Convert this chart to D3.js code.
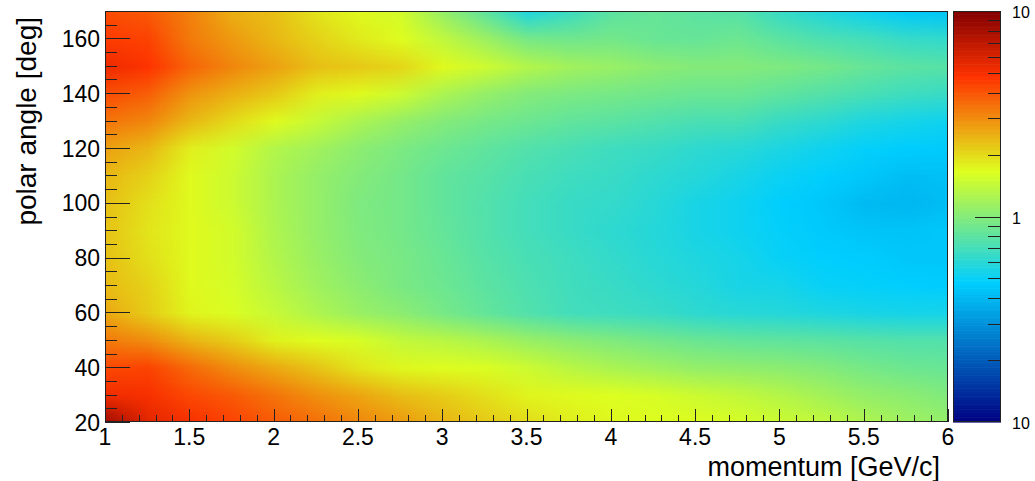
<!DOCTYPE html>
<html><head><meta charset="utf-8">
<script src="https://cdn.jsdelivr.net/npm/d3@7"></script>
<style>
body{margin:0;background:#fff}
svg{display:block}
text{font-family:"Liberation Sans",Arial,Helvetica,sans-serif;fill:#000}
</style>
</head><body>
<svg id="chart" width="1035" height="481"></svg>
<script>
// ---- data ----
const momentum = [1,1.25,1.5,1.75,2,2.25,2.5,2.75,3,3.25,3.5,3.75,4,4.25,4.5,4.75,5,5.25,5.5,5.75,6];
const angles = [20,30,40,50,60,70,80,90,100,110,120,130,140,150,160,170];
const row20  = [8.5,5.7,5.0,4.4,3.9,3.5,3.1,2.8,2.45,2.2,2.0,1.8,1.72,1.68,1.68,1.6,1.5,1.42,1.28,1.17,1.1];
const row30  = [5.2,5.0,4.3,3.9,3.4,2.95,2.65,2.32,2.15,1.95,1.75,1.7,1.65,1.6,1.5,1.42,1.32,1.2,1.1,1.05,0.98];
const row40  = [4.3,4.4,3.6,3.0,2.6,2.25,1.9,1.72,1.68,1.62,1.5,1.35,1.25,1.17,1.1,1.08,1.05,1.0,0.93,0.88,0.86];
const row50  = [3.3,3.0,2.45,2.15,1.78,1.68,1.6,1.42,1.35,1.25,1.13,1.05,0.98,0.92,0.87,0.84,0.82,0.8,0.78,0.76,0.76];
const row60  = [2.6,2.15,1.75,1.62,1.45,1.27,1.13,1.05,0.93,0.84,0.76,0.7,0.68,0.66,0.62,0.6,0.59,0.57,0.55,0.54,0.54];
const row70  = [2.35,2.1,1.7,1.58,1.35,1.17,1.05,0.95,0.88,0.8,0.74,0.69,0.66,0.62,0.59,0.55,0.54,0.5,0.49,0.48,0.47];
const row80  = [2.3,1.95,1.7,1.55,1.3,1.13,1.0,0.94,0.86,0.78,0.72,0.68,0.64,0.6,0.57,0.54,0.5,0.48,0.47,0.45,0.45];
const row90  = [2.25,1.9,1.7,1.55,1.27,1.1,0.98,0.92,0.84,0.76,0.7,0.66,0.62,0.59,0.55,0.52,0.49,0.46,0.44,0.44,0.45];
const row100 = [2.3,1.95,1.7,1.5,1.25,1.1,0.97,0.92,0.83,0.76,0.7,0.66,0.64,0.6,0.55,0.52,0.48,0.45,0.41,0.4,0.42];
const row110 = [2.4,2.1,1.7,1.5,1.25,1.1,1.0,0.92,0.83,0.78,0.72,0.68,0.66,0.62,0.59,0.55,0.51,0.48,0.45,0.42,0.43];
const row120 = [2.7,2.4,1.8,1.55,1.3,1.18,1.05,0.96,0.88,0.82,0.76,0.72,0.68,0.66,0.62,0.6,0.56,0.52,0.49,0.47,0.46];
const row130 = [3.4,3.1,2.4,2.0,1.7,1.45,1.25,1.11,1.0,0.93,0.88,0.83,0.8,0.76,0.73,0.72,0.66,0.62,0.57,0.54,0.52];
const row140 = [4.2,3.8,2.9,2.5,2.2,1.8,1.7,1.5,1.25,1.1,1.0,0.96,0.93,0.9,0.87,0.87,0.82,0.77,0.72,0.68,0.66];
const row150 = [5.3,4.8,3.7,3.1,2.7,2.3,2.2,2.05,1.7,1.5,1.3,1.18,1.12,1.05,1.0,1.0,0.97,0.92,0.85,0.8,0.78];
const row160 = [4.6,4.4,3.3,2.8,2.4,2.1,1.85,1.68,1.4,1.15,0.93,0.9,0.92,0.86,0.85,0.88,0.8,0.74,0.7,0.65,0.63];
const row170 = [4.2,3.9,3.2,2.5,2.3,1.9,1.7,1.55,1.1,0.81,0.57,0.67,0.8,0.85,0.8,0.78,0.65,0.58,0.52,0.46,0.44];
const grid = [row20,row30,row40,row50,row60,row70,row80,row90,row100,row110,row120,row130,row140,row150,row160,row170];

const xTickValues = [1,1.5,2,2.5,3,3.5,4,4.5,5,5.5,6];
const xTickLabels = ["1","1.5","2","2.5","3","3.5","4","4.5","5","5.5","6"];
const yTickValues = [20,40,60,80,100,120,140,160];
const yTickLabels = ["20","40","60","80","100","120","140","160"];
const zTickValues = [10,1,0.1];
const zTickLabels = ["10","1","10"];
const xTitle = "momentum [GeV/c]";
const yTitle = "polar angle [deg]";

// ---- layout / style ----
const L = 105, R = 948, T = 11, B = 422;
const CB_L = 953, CB_R = 1001;
const paletteStops = [0,0.34,0.61,0.84,1];
const paletteColors = ["rgb(0,0,130)","rgb(0,207,255)","rgb(222,255,31)","rgb(255,51,0)","rgb(130,0,0)"];
const lineColor = "#222";

const svg = d3.select("#chart");
const x = d3.scaleLinear().domain([1,6]).range([L,R]);
const y = d3.scaleLinear().domain([20,170]).range([B,T]);
const zNorm = d3.scaleLog().domain([0.1,10]).range([0,1]).clamp(true);
const pal = d3.scaleLinear().domain(paletteStops).range(paletteColors).interpolate(d3.interpolateRgb);
const color = v => pal(zNorm(v));

// ---- heat map: one pixel per cell, smoothly scaled by the renderer ----
const nx = momentum.length, ny = angles.length;
const cv = document.createElement("canvas");
cv.width = nx; cv.height = ny;
const ctx = cv.getContext("2d");
const img = ctx.createImageData(nx, ny);
for (let j = 0; j < ny; j++) {
  for (let i = 0; i < nx; i++) {
    const c = d3.rgb(color(grid[j][i]));
    const k = ((ny - 1 - j) * nx + i) * 4;
    img.data[k] = c.r; img.data[k+1] = c.g; img.data[k+2] = c.b; img.data[k+3] = 255;
  }
}
ctx.putImageData(img, 0, 0);
const dp = momentum[1] - momentum[0], da = angles[1] - angles[0];

svg.append("defs").append("clipPath").attr("id","plotclip")
  .append("rect").attr("x",L).attr("y",T).attr("width",R-L).attr("height",B-T);

const x0 = x(momentum[0] - dp/2), x1 = x(momentum[nx-1] + dp/2);
const y0 = y(angles[ny-1] + da/2), y1 = y(angles[0] - da/2);
svg.append("g").attr("clip-path","url(#plotclip)")
  .append("image")
  .attr("href", cv.toDataURL())
  .attr("x", x0).attr("y", y0)
  .attr("width", x1 - x0).attr("height", y1 - y0)
  .attr("preserveAspectRatio","none")
  .style("image-rendering","auto");

// ---- frame ----
svg.append("rect").attr("x",L+0.5).attr("y",T+0.5).attr("width",R-L-1).attr("height",B-T-1)
  .attr("fill","none").attr("stroke",lineColor).attr("stroke-width",1);

// ---- x axis ----
const xMinor = d3.range(10, 61).map(v => v/10).filter(v => !xTickValues.some(t => Math.abs(t - v) < 1e-9));
const gx = svg.append("g");
gx.selectAll("line.maj").data(xTickValues).join("line")
  .attr("x1", d => Math.round(x(d))+0.5).attr("x2", d => Math.round(x(d))+0.5)
  .attr("y1", B).attr("y2", B-13).attr("stroke", lineColor);
gx.selectAll("line.min").data(xMinor).join("line")
  .attr("x1", d => Math.round(x(d))+0.5).attr("x2", d => Math.round(x(d))+0.5)
  .attr("y1", B).attr("y2", B-7).attr("stroke", lineColor);
gx.selectAll("text").data(xTickValues).join("text")
  .attr("x", d => x(d)).attr("y", 445)
  .attr("text-anchor","middle").attr("font-size", 23)
  .text((d,i) => xTickLabels[i]);

// ---- y axis ----
const yMinor = d3.range(20, 171, 5).filter(v => !yTickValues.includes(v));
const gy = svg.append("g");
gy.selectAll("line.maj").data(yTickValues).join("line")
  .attr("x1", L).attr("x2", L+25)
  .attr("y1", d => Math.round(y(d))+0.5).attr("y2", d => Math.round(y(d))+0.5).attr("stroke", lineColor);
gy.selectAll("line.min").data(yMinor).join("line")
  .attr("x1", L).attr("x2", L+12)
  .attr("y1", d => Math.round(y(d))+0.5).attr("y2", d => Math.round(y(d))+0.5).attr("stroke", lineColor);
gy.selectAll("text").data(yTickValues).join("text")
  .attr("x", 100).attr("y", d => y(d) + 8.5)
  .attr("text-anchor","end").attr("font-size", 23)
  .text((d,i) => yTickLabels[i]);

// ---- titles ----
svg.append("text").attr("x", 940).attr("y", 476).attr("text-anchor","end")
  .attr("font-size", 27).text(xTitle);
svg.append("text").attr("transform","translate(36,17) rotate(-90)").attr("text-anchor","end")
  .attr("font-size", 28).text(yTitle);

// ---- colour bar ----
const zy = d3.scaleLog().domain([0.1,10]).range([B,T]);
const nSteps = 255;
const cb = svg.append("g");
cb.selectAll("rect").data(d3.range(nSteps)).join("rect")
  .attr("x", CB_L).attr("width", CB_R - CB_L)
  .attr("y", d => T + (B - T) * (nSteps - 1 - d) / nSteps)
  .attr("height", (B - T) / nSteps + 0.6)
  .attr("fill", d => pal((d + 0.5) / nSteps));
cb.append("rect").attr("x",CB_L+0.5).attr("y",T+0.5).attr("width",CB_R-CB_L-1).attr("height",B-T-1)
  .attr("fill","none").attr("stroke",lineColor).attr("stroke-width",1);
const zMinor = [0.2,0.3,0.4,0.5,0.6,0.7,0.8,0.9,2,3,4,5,6,7,8,9];
cb.selectAll("line.min").data(zMinor).join("line")
  .attr("x1", CB_R).attr("x2", CB_R-13)
  .attr("y1", d => Math.round(zy(d))+0.5).attr("y2", d => Math.round(zy(d))+0.5).attr("stroke", lineColor);
cb.append("line").attr("x1", CB_R).attr("x2", CB_R-26)
  .attr("y1", Math.round(zy(1))+0.5).attr("y2", Math.round(zy(1))+0.5).attr("stroke", lineColor);
cb.selectAll("text").data(zTickValues).join("text")
  .attr("x", 1012).attr("y", d => zy(d) + 7)
  .attr("font-size", 16)
  .text((d,i) => zTickLabels[i]);
</script>
</body></html>
